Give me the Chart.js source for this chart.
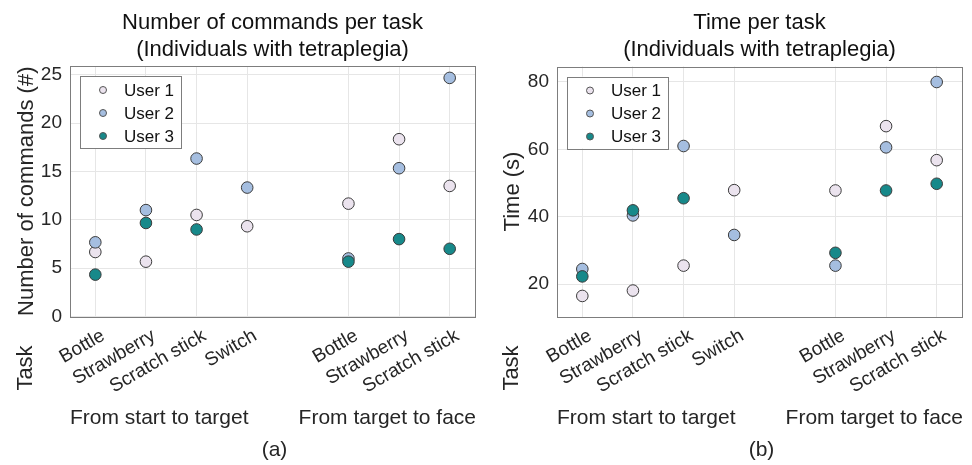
<!DOCTYPE html>
<html><head><meta charset="utf-8">
<script src="https://cdn.jsdelivr.net/npm/chart.js@4.4.0/dist/chart.umd.min.js"></script>
<style>
html,body{margin:0;padding:0;background:#fff;}
#wrap{position:relative;width:972px;height:465px;}
.box{position:absolute;top:0;width:486px;height:465px;}
</style></head>
<body>
<div id="wrap">
  <div class="box" style="left:0"><canvas id="c1"></canvas></div>
  <div class="box" style="left:486px"><canvas id="c2"></canvas></div>
</div>
<script>
// ---------- data ----------
const taskLabels = ['Bottle','Strawberry','Scratch stick','Switch','Bottle','Strawberry','Scratch stick'];
const taskPositions = [1,2,3,4,6,7,8];
const groupLabels = ['From start to target','From target to face'];
const userNames = ['User 1','User 2','User 3'];
const userColors = ['#ebe3ee','#a5bee0','#17898a'];

const cmdUser1 = [6.67, 5.67, 10.5, 9.33, 11.67, 18.33, 13.5];
const cmdUser2 = [7.67, 11, 16.33, 13.33, 6, 15.33, 24.67];
const cmdUser3 = [4.33, 9.67, 9, null, 5.67, 8, 7];

const timeUser1 = [16.5, 18.1, 25.5, 47.9, 47.8, 66.9, 56.8];
const timeUser2 = [24.5, 40.4, 61.0, 34.6, 25.5, 60.6, 80.0];
const timeUser3 = [22.3, 41.9, 45.5, null, 29.3, 47.8, 49.8];

const cmdTicks = [0,5,10,15,20,25];
const timeTicks = [20,40,60,80];

const FONT = "'Liberation Sans', Arial, sans-serif";
const TXT = '#262626';

function pts(arr){
  return taskPositions.map((x,i)=>({x:x,y:arr[i]})).filter(p=>p.y!==null);
}

function makeChart(id, series, yMin, yMax, yTicks, title, yTitle, letter, yWidth, padTop, padRight){
  const datasets = series.map((s,i)=>({
    label: userNames[i],
    data: pts(s),
    backgroundColor: userColors[i],
    borderColor: '#3a3a3a',
    borderWidth: 1,
    pointRadius: 5.8,
    pointHoverRadius: 5.8,
    order: 2 - i
  }));
  const overlay = {
    id: 'overlay',
    afterDraw(chart){
      const ctx = chart.ctx, a = chart.chartArea;
      ctx.save();
      // box
      ctx.strokeStyle = '#7d7d7d'; ctx.lineWidth = 1;
      ctx.strokeRect(Math.round(a.left)+0.5, Math.round(a.top)+0.5, Math.round(a.right-a.left), Math.round(a.bottom-a.top));
      const cx = (a.left + a.right)/2;
      // title
      ctx.fillStyle = '#111';
      ctx.textAlign = 'center'; ctx.textBaseline = 'middle';
      ctx.font = '22px ' + FONT;
      ctx.fillText(title[0], cx, 23);
      ctx.fillText(title[1], cx, 50);
      // y title
      ctx.fillStyle = TXT;
      ctx.save();
      ctx.translate(27, (a.top+a.bottom)/2);
      ctx.rotate(-Math.PI/2);
      ctx.font = '22px ' + FONT;
      ctx.fillText(yTitle, 0, 0);
      ctx.restore();
      // Task
      ctx.save();
      ctx.translate(26, 368);
      ctx.rotate(-Math.PI/2);
      ctx.font = '22px ' + FONT;
      ctx.fillText('Task', 0, 0);
      ctx.restore();
      // group labels
      ctx.font = '21px ' + FONT;
      ctx.textAlign = 'left';
      ctx.fillText(groupLabels[0], a.left, 418);
      ctx.textAlign = 'right';
      ctx.fillText(groupLabels[1], a.right+1, 418);
      // panel letter
      ctx.textAlign = 'center';
      ctx.fillText(letter, cx+2, 450);
      // legend
      const lx = a.left + 10, ly = a.top + 10;
      ctx.fillStyle = '#fff';
      ctx.fillRect(lx, ly, 101, 72);
      ctx.strokeStyle = '#7d7d7d';
      ctx.strokeRect(Math.round(lx)+0.5, Math.round(ly)+0.5, 101, 72);
      ctx.font = '17px ' + FONT;
      ctx.textAlign = 'left';
      for(let i=0;i<3;i++){
        const yy = ly + 14 + i*23;
        ctx.beginPath();
        ctx.arc(lx+23, yy, 3.5, 0, Math.PI*2);
        ctx.fillStyle = userColors[i]; ctx.fill();
        ctx.strokeStyle = '#555'; ctx.lineWidth = 1; ctx.stroke();
        ctx.fillStyle = '#111';
        ctx.fillText(userNames[i], lx+44, yy+1);
      }
      ctx.restore();
    }
  };
  return new Chart(document.getElementById(id), {
    type: 'scatter',
    data: { datasets: datasets },
    options: {
      responsive: true, maintainAspectRatio: false, animation: false,
      layout: { padding: { top: padTop, right: padRight, left: 0, bottom: 0 } },
      plugins: { legend: { display: false }, tooltip: { enabled: false }, title: { display: false } },
      scales: {
        x: {
          type: 'linear', min: 0.5, max: 8.5,
          afterBuildTicks: s => { s.ticks = taskPositions.map(v=>({value:v})); },
          afterFit: s => { s.height = 148.5; },
          grid: { color: '#e6e6e6', drawTicks: false },
          border: { display: false },
          ticks: {
            autoSkip: false, minRotation: 30, maxRotation: 30, padding: 8, labelOffset: 8,
            color: TXT, font: { size: 19, family: FONT },
            callback: v => taskLabels[taskPositions.indexOf(v)]
          }
        },
        y: {
          min: yMin, max: yMax,
          afterBuildTicks: s => { s.ticks = yTicks.map(v=>({value:v})); },
          afterFit: s => { s.width = yWidth; },
          grid: { color: '#e6e6e6', drawTicks: false },
          border: { display: false },
          ticks: { padding: 8, color: TXT, font: { size: 19, family: FONT } }
        }
      }
    },
    plugins: [overlay]
  });
}

makeChart('c1', [cmdUser1, cmdUser2, cmdUser3], 0, 25.9, cmdTicks,
  ['Number of commands per task','(Individuals with tetraplegia)'], 'Number of commands (#)', '(a)', 70, 66, 11);
makeChart('c2', [timeUser1, timeUser2, timeUser3], 10.4, 84.6, timeTicks,
  ['Time per task','(Individuals with tetraplegia)'], 'Time (s)', '(b)', 71, 66.5, 10);
</script>
</body></html>
